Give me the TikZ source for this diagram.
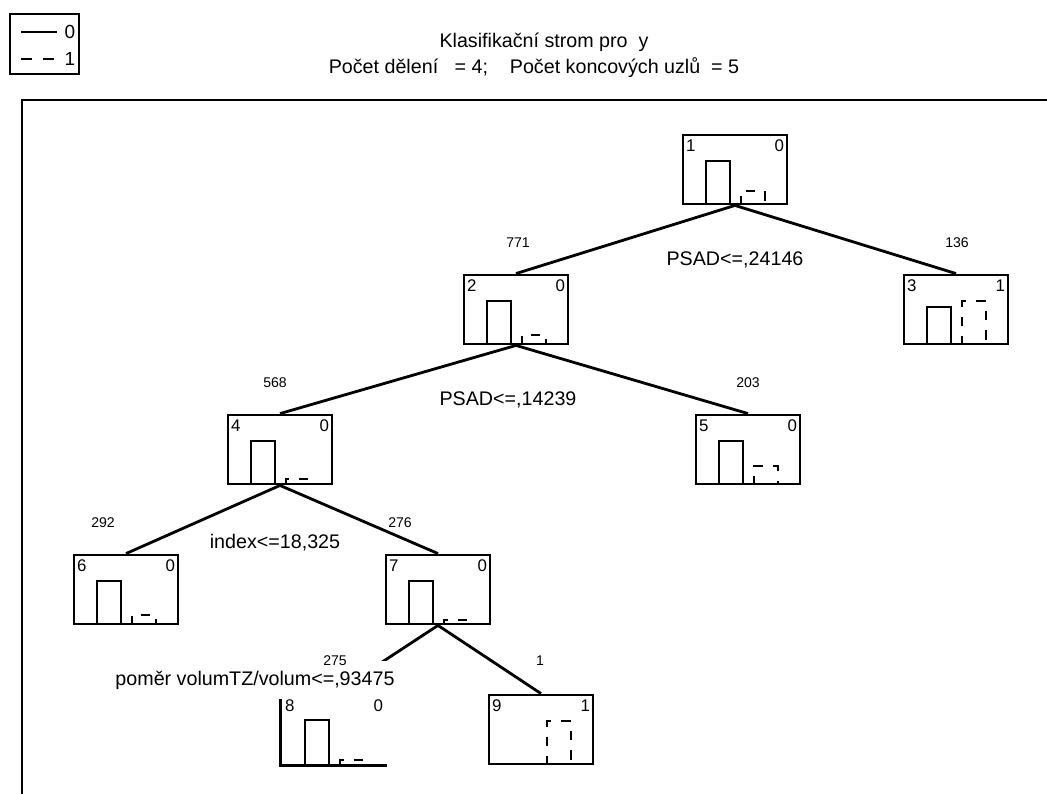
\documentclass[tikz,border=0pt]{standalone}
\usepackage{fontspec}
\setmainfont{Liberation Sans}

\tikzset{
  treebox/.style={draw, line width=2pt, minimum width=2.6cm, minimum height=1.725cm, inner sep=0pt},
  edge/.style={line width=2pt},
  bar/.style={line width=2pt},
  dashbar/.style={line width=2pt, dash pattern=on 7pt off 7pt, dash phase=1.5pt},
  idlabel/.style={font=\fontsize{12}{14}\selectfont, inner xsep=3pt, inner ysep=4.5pt},
  countlabel/.style={font=\fontsize{10}{12}\selectfont, inner sep=0pt},
  splitlabel/.style={fill=white, font=\fontsize{14}{16}\selectfont, inner sep=1pt},
  titletext/.style={font=\fontsize{14}{16}\selectfont, inner sep=0pt}
}

\begin{document}
\begin{tikzpicture}[x=0.025cm, y=-0.025cm]

    % Page size in pixels of the original
    \useasboundingbox (0,0) rectangle (1047,794);

    % Legend box
    \node[draw, line width=2pt, minimum width=1.725cm, minimum height=1.5cm] (legend) at (44.5,44) {};
    \draw[line width=2pt] (21,32) -- (57,32);
    \draw[line width=2pt, dash pattern=on 7.8pt off 7.8pt] (21,59) -- (55,59);
    \node[font=\fontsize{13.5}{15}\selectfont, anchor=west, inner sep=1pt] (leg0) at (63,32) {0};
    \node[font=\fontsize{13.5}{15}\selectfont, anchor=west, inner sep=1pt] (leg1) at (63,59) {1};

    % Title
    \node[titletext] (title) at (544,42) {Klasifikační strom pro\ \ y};
    \node[titletext] (subtitle) at (534,68) {Počet dělení\ \ \ = 4;\ \ \ \ Počet koncových uzlů\ \ = 5};

    % Frame round the tree
    \draw[line width=2pt] (22,794) -- (22,100) -- (1047,100);

    % Tree nodes: name/left/top/number/class/height of bar 0/height of bar 1
    \foreach \name/\l/\t/\num/\cls/\hz/\ho in {n1/683/135/1/0/43/13, n2/464/275/2/0/43/9,
        n3/904/275/3/1/37/43, n4/228/415/4/0/43/5, n5/696/415/5/0/43/18,
        n6/74/555/6/0/43/9, n7/386/555/7/0/43/4, n9/489/695/9/1/0/43} {
        \node[treebox] (\name) at (\l+52,\t+34.5) {};
        \node[idlabel, anchor=north west] (\name id) at (\name.north west) {\num};
        \node[idlabel, anchor=north east] (\name cls) at (\name.north east) {\cls};
        \draw[bar] (\l+23,\t+69) -- ++(0,-\hz) -- ++(24,0) -- ++(0,\hz);
        \draw[dashbar] (\l+58,\t+69) -- ++(0,-\ho) -- ++(24,0) -- ++(0,\ho);
    }

    % Node 8 keeps only its left and bottom sides
    \node[treebox, draw=none] (n8) at (334,729.5) {};
    \draw[line width=2pt] (n8.north west) -- (n8.south west) -- (n8.south east);
    \node[idlabel, anchor=north west] (n8id) at (n8.north west) {8};
    \node[idlabel, anchor=north east] (n8cls) at (n8.north east) {0};
    \draw[bar] (305,764) -- ++(0,-44) -- ++(24,0) -- ++(0,44);
    \draw[dashbar] (340,764) -- ++(0,-4) -- ++(24,0) -- ++(0,4);

    % Connectors
    \foreach \a/\b in {n1/n2, n1/n3, n2/n4, n2/n5, n4/n6, n4/n7, n7/n8, n7/n9} {
        \draw[edge] (\a.south) -- (\b.north);
    }

    % Split rules
    \node[splitlabel] (s1) at (735,260) {PSAD<=,24146};
    \node[splitlabel] (s2) at (508,400) {PSAD<=,14239};
    \node[splitlabel] (s4) at (275,543) {index<=18,325};
    \node[splitlabel, minimum height=0.95cm] (s7) at (255,680) {poměr volumTZ/volum<=,93475};

    % Case counts
    \node[countlabel] (c2) at (518,243) {771};
    \node[countlabel] (c3) at (957,243) {136};
    \node[countlabel] (c4) at (275,383) {568};
    \node[countlabel] (c5) at (748,383) {203};
    \node[countlabel] (c6) at (103,523) {292};
    \node[countlabel] (c7) at (400,523) {276};
    \node[countlabel] (c8) at (335,661) {275};
    \node[countlabel] (c9) at (540,661) {1};

\end{tikzpicture}
\end{document}
